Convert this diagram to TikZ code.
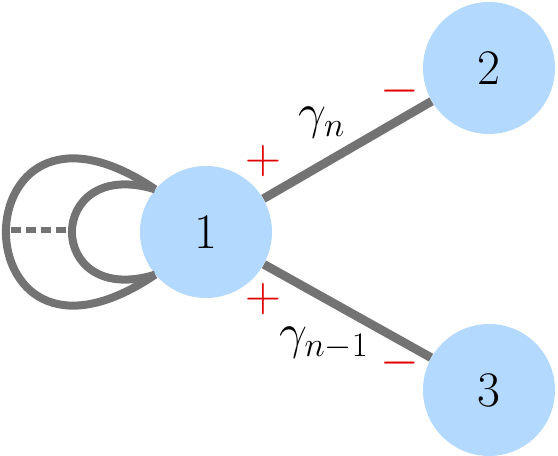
\documentclass[tikz,border=0pt]{standalone}
\usetikzlibrary{positioning}
\definecolor{nodeblue}{RGB}{179,217,255}
\definecolor{edgegray}{RGB}{115,115,115}
\definecolor{signred}{RGB}{225,0,0}

\begin{document}
\begin{tikzpicture}[x=0.5pt, y=0.5pt,
  vertex/.style={circle, fill=nodeblue, inner sep=0pt, minimum size=66pt,
    font=\fontsize{27}{32}\selectfont},
  edge/.style={draw=edgegray, line width=4.4pt},
  loopline/.style={draw=edgegray, line width=4pt},
  sgn/.style={text=signred, inner sep=0pt, font=\fontsize{28}{32}\selectfont},
  elab/.style={inner sep=0pt, font=\fontsize{27}{32}\selectfont}]
\useasboundingbox (0,0) rectangle (558,456);
\node[vertex] (v1) at (206,224) {$1$};
\node[vertex] (v2) at (489,388) {$2$};
\node[vertex] (v3) at (489,66) {$3$};
\draw[edge] (v1) -- (v2);
\draw[edge] (v1) -- (v3);
% self loops on vertex 1
\draw[loopline] (v1.140) to[out=146, in=214, distance=120pt] (v1.220);
\draw[loopline] (v1.140) to[out=163, in=197, distance=58pt] (v1.220);
\coordinate (lo) at (11,226);
\coordinate (li) at (68,226);
\draw[draw=edgegray, line width=2.8pt, dash pattern=on 5pt off 2.5pt] (lo) -- (li);
% edge labels and signs
\node[elab] (g1) at (322,333) {$\gamma_n$};
\node[elab] (g2) at (324,113) {$\gamma_{n-1}$};
\node[sgn] (p1) at (263,295) {$+$};
\node[sgn] (m1) at (400,365) {$-$};
\node[sgn] (p2) at (263,157) {$+$};
\node[sgn] (m2) at (400,93) {$-$};
\end{tikzpicture}
\end{document}
